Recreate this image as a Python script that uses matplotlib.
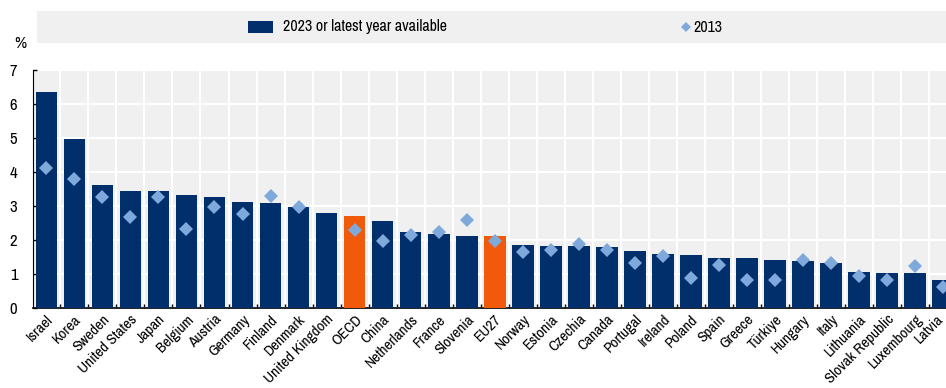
import matplotlib
matplotlib.use("Agg")
import matplotlib.pyplot as plt
from matplotlib import font_manager
from matplotlib.patches import Rectangle
from matplotlib.lines import Line2D
from matplotlib.transforms import ScaledTranslation
import numpy as np

countries = ["Israel", "Korea", "Sweden", "United States", "Japan", "Belgium", "Austria",
             "Germany", "Finland", "Denmark", "United Kingdom", "OECD", "China", "Netherlands",
             "France", "Slovenia", "EU27", "Norway", "Estonia", "Czechia", "Canada", "Portugal",
             "Ireland", "Poland", "Spain", "Greece", "Türkiye", "Hungary", "Italy", "Lithuania",
             "Slovak Republic", "Luxembourg", "Latvia"]
values_2023 = [6.34, 4.97, 3.61, 3.44, 3.43, 3.31, 3.27, 3.11, 3.09, 2.98, 2.80, 2.71, 2.57,
               2.23, 2.19, 2.12, 2.12, 1.85, 1.83, 1.82, 1.78, 1.69, 1.58, 1.56, 1.48, 1.48,
               1.41, 1.37, 1.31, 1.05, 1.04, 1.02, 0.82]
values_2013 = [4.11, 3.78, 3.27, 2.69, 3.27, 2.31, 2.97, 2.77, 3.28, 2.96, None, 2.30, 1.96,
               2.15, 2.24, 2.60, 1.96, 1.64, 1.71, 1.88, 1.72, 1.33, 1.54, 0.87, 1.26, 0.81,
               0.81, 1.40, 1.31, 0.95, 0.81, 1.24, 0.63]
highlight = ["OECD", "EU27"]
yticks = [0, 1, 2, 3, 4, 5, 6, 7]

NAVY = "#002F6C"
ORANGE = "#F05A0A"
LIGHT = "#7FA9DB"
BG = "#F0F0F0"

names = {f.name for f in font_manager.fontManager.ttflist}
narrow_candidates = ["Liberation Sans Narrow", "Arial Narrow", "Archivo Narrow",
                     "PT Sans Narrow", "Roboto Condensed", "Open Sans Condensed",
                     "Encode Sans Condensed", "IBM Plex Sans Condensed", "Fira Sans Condensed"]
chosen = next((n for n in narrow_candidates if n in names), None)
if chosen:
    plt.rcParams["font.family"] = [chosen, "DejaVu Sans"]
    fs = 11
else:
    plt.rcParams["font.family"] = ["Liberation Sans", "DejaVu Sans"]
    fs = 9.5

W, H = 946, 388
fig = plt.figure(figsize=(W / 100, H / 100), dpi=100)
ax = fig.add_axes([33 / W, 1 - 308 / H, 1 - 33 / W + 0.002, (308 - 70) / H])
ax.set_facecolor(BG)

x = np.arange(len(countries))
colors = [ORANGE if c in highlight else NAVY for c in countries]
ax.bar(x, values_2023, width=0.77, color=colors, zorder=3)
xs = [i for i, v in zip(x, values_2013) if v is not None]
vs = [v for v in values_2013 if v is not None]
ax.plot(xs, vs, linestyle="none", marker="D", markersize=7, color=LIGHT,
        markeredgewidth=0, zorder=4)

ax.set_xlim(-0.475, 32.165)
ax.set_ylim(0, 7)
ax.set_yticks(yticks)
ax.set_yticklabels([str(t) for t in yticks], fontsize=fs + 1)
ax.set_xticks(x)
ax.set_xticklabels(countries, rotation=45, ha="right", va="top",
                   rotation_mode="anchor", fontsize=fs)
ax.set_xticks(x[:-1] + 0.5, minor=True)
ax.tick_params(axis="x", which="major", length=0, pad=3)
ax.tick_params(axis="x", which="minor", direction="in", length=3, width=1, color="black")
ax.tick_params(axis="y", direction="in", length=3, width=1, pad=14)
for lab in ax.get_yticklabels():
    lab.set_horizontalalignment("center")
last = ax.get_xticklabels()[-1]
last.set_transform(last.get_transform() + ScaledTranslation(-7 / 100, 0, fig.dpi_scale_trans))

ax.grid(axis="y", which="major", color="white", linewidth=1.5, zorder=0)
ax.grid(axis="x", which="minor", color="white", linewidth=1.5, zorder=0)
ax.set_axisbelow(True)
for s in ["top", "right"]:
    ax.spines[s].set_visible(False)
ax.spines["left"].set_color("black")
ax.spines["bottom"].set_color("black")
ax.spines["bottom"].set_linewidth(1.2)

# legend band
fig.patches.append(Rectangle((37 / W, 1 - 43 / H), 1 - 37 / W, 32 / H,
                             transform=fig.transFigure, facecolor=BG, edgecolor="none"))
fig.patches.append(Rectangle((248 / W, 1 - 33 / H), 25 / W, 12 / H,
                             transform=fig.transFigure, facecolor=NAVY, edgecolor="none"))
fig.text(283 / W, 1 - 27 / H, "2023 or latest year available", fontsize=fs + 0.5,
         va="center", ha="left")
fig.lines.append(Line2D([686 / W], [1 - 27 / H], transform=fig.transFigure, marker="D",
                        markersize=5, color=LIGHT, markeredgewidth=0, linestyle="none"))
fig.text(693 / W, 1 - 27 / H, "2013", fontsize=fs + 0.5, va="center", ha="left")
fig.text(20 / W, 1 - 44 / H, "%", fontsize=fs + 1, va="center", ha="center")

fig.savefig("out.png", dpi=100)
